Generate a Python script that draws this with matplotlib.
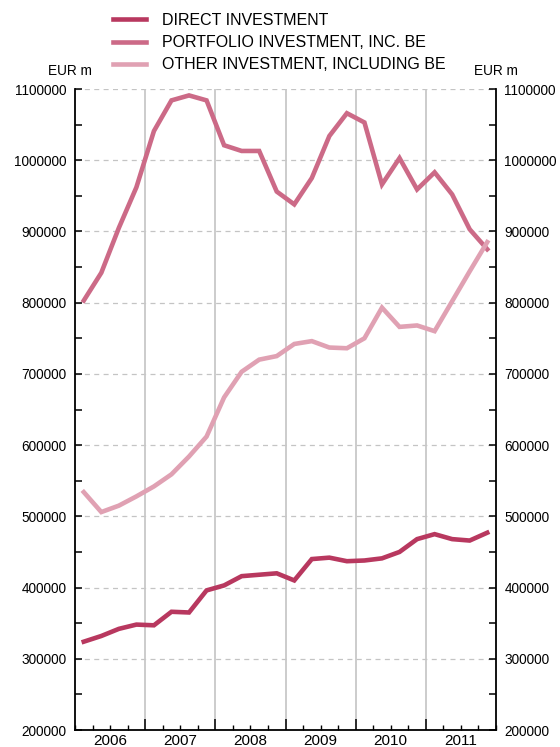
import numpy as np
import matplotlib
matplotlib.use("Agg")
import matplotlib.pyplot as plt
from matplotlib.ticker import MultipleLocator, FixedLocator, FuncFormatter

plt.rcParams['font.family'] = ['Liberation Sans', 'DejaVu Sans']

# quarterly data 2006Q1 .. 2011Q4, EUR m
years = [2006, 2007, 2008, 2009, 2010, 2011]
direct = [324000, 332000, 342000, 348000, 347000, 366000, 365000, 396000,
          403000, 416000, 418000, 420000, 410000, 440000, 442000, 437000,
          438000, 441000, 450000, 468000, 475000, 468000, 466000, 477000]
portfolio = [803000, 842000, 905000, 962000, 1041000, 1084000, 1091000, 1084000,
             1021000, 1013000, 1013000, 956000, 938000, 975000, 1034000, 1066000,
             1053000, 966000, 1003000, 959000, 983000, 952000, 903000, 875000]
other = [534000, 506000, 515000, 528000, 542000, 559000, 584000, 612000,
         667000, 703000, 720000, 725000, 742000, 746000, 737000, 736000,
         750000, 793000, 766000, 768000, 760000, 802000, 844000, 885000]
labels = ['DIRECT INVESTMENT', 'PORTFOLIO INVESTMENT, INC. BE',
          'OTHER INVESTMENT, INCLUDING BE']
colors = ['#b8385f', '#cc6a87', '#e0a1b3']

x = years[0] + (np.arange(len(direct)) + 0.5) / 4.0

fig = plt.figure(figsize=(5.6, 7.47), dpi=100)
ax = fig.add_axes([75 / 560, 17 / 747, 421 / 560, 641 / 747])

lines = []
for vals, c, lab in zip([direct, portfolio, other], colors, labels):
    ln, = ax.plot(x, vals, color=c, lw=3.3, label=lab, solid_joinstyle='miter', zorder=3)
    lines.append(ln)

ax.set_xlim(2006, 2012)
ax.set_ylim(200000, 1100000)

# grid
for v in range(300000, 1100001, 100000):
    ax.axhline(v, color='#c4c4c4', lw=0.9, ls=(0, (4, 3.5)), zorder=1)
for yr in years[1:]:
    ax.axvline(yr, color='#c8c8c8', lw=1.3, zorder=1)

ax.spines['top'].set_visible(False)
for s in ['left', 'right', 'bottom']:
    ax.spines[s].set_linewidth(1.3)

ax.yaxis.set_major_locator(MultipleLocator(100000))
ax.yaxis.set_minor_locator(MultipleLocator(50000))
ax.yaxis.set_major_formatter(FuncFormatter(lambda v, p: '%d' % v))
ax.tick_params(axis='y', which='both', direction='in', length=5, width=1.1,
               left=True, right=True, labelleft=True, labelright=True,
               labelsize=9.8, pad=6)

ax.xaxis.set_major_locator(FixedLocator(years[1:]))
ax.xaxis.set_minor_locator(MultipleLocator(0.25))
ax.tick_params(axis='x', which='major', direction='in', length=8, width=1.1, labelbottom=False)
ax.tick_params(axis='x', which='minor', direction='in', length=3.5, width=1.0)

for yr in years:
    ax.annotate(str(yr), xy=(yr + 0.5, 0), xycoords=('data', 'axes fraction'),
                xytext=(0, -3), textcoords='offset points', ha='center', va='top',
                fontsize=11)

fig.text(70 / 560, 1 - 71 / 747, 'EUR m', ha='center', va='center', fontsize=9.8)
fig.text(496 / 560, 1 - 71 / 747, 'EUR m', ha='center', va='center', fontsize=9.8)

fig.legend(handles=lines, loc='upper left', bbox_to_anchor=(113 / 560, 1 - 13 / 747),
           frameon=False, fontsize=11.5, handlelength=2.05, handletextpad=1.0,
           labelspacing=0.45, borderpad=0, borderaxespad=0)

fig.savefig('out.png', dpi=100)
